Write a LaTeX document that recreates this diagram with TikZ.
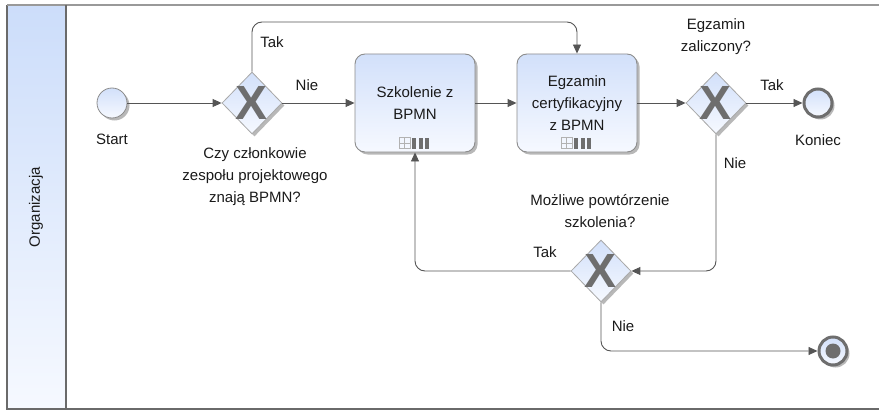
\documentclass[tikz,border=0pt]{standalone}
\usepackage{fontspec}
\setmainfont{Liberation Sans}
\usetikzlibrary{shapes.geometric,arrows.meta,shadows,calc}
\definecolor{bpblue}{HTML}{D2E0FA}
\definecolor{bplight}{HTML}{F6F9FF}
\definecolor{poolblue}{HTML}{CCDDFA}
\definecolor{lineg}{HTML}{555555}
\definecolor{gwborder}{HTML}{A9A9A9}
\definecolor{xgray}{HTML}{6E6E6E}
\definecolor{taskborder}{HTML}{8C8C8C}
\definecolor{shadowg}{HTML}{B8B8B8}
\definecolor{poolline}{HTML}{6A6A6A}
\definecolor{txt}{HTML}{1A1A1A}
\tikzset{
  mimarker/.pic={
    \draw[gray!60, line width=0.6pt] (-16,-5.5) rectangle (-5,5.5);
    \draw[gray!60, line width=0.6pt] (-10.5,-5.5) -- (-10.5,5.5) (-16,0) -- (-5,0);
    \fill[xgray] (-3,-5.5) rectangle (1,5.5);
    \fill[xgray] (3.5,-5.5) rectangle (7.5,5.5);
    \fill[xgray] (10,-5.5) rectangle (14,5.5);
  }
}
\begin{document}
\begin{tikzpicture}[x=1pt,y=-1pt,
  font=\fontsize{15}{22}\selectfont,
  flow/.style={draw=lineg, line width=0.9pt, -{Triangle[length=9pt,width=8pt]}, rounded corners=10pt},
  shd/.style={drop shadow={shadow xshift=2.5pt,shadow yshift=-2.5pt,fill=shadowg,opacity=1}},
  task/.style={shd, draw=taskborder, line width=0.9pt, rounded corners=10pt, top color=bpblue, bottom color=bplight, minimum width=120pt, minimum height=98pt, align=center, inner sep=0pt, text=txt},
  gateway/.style={shd, diamond, draw=gwborder, line width=0.8pt, top color=bpblue, bottom color=bplight, minimum width=60pt, minimum height=62pt, inner sep=0pt},
  xmark/.style={text=xgray, font=\fontsize{48}{48}\selectfont\bfseries, inner sep=0pt},
  startev/.style={shd, circle, draw=gray!90, line width=0.8pt, top color=bpblue, bottom color=bplight, minimum size=30pt, inner sep=0pt},
  endev/.style={shd, circle, draw=xgray, line width=3pt, top color=bpblue, bottom color=bplight, minimum size=28pt, inner sep=0pt},
  lbl/.style={align=center, inner sep=0pt, text=txt},
]
\useasboundingbox (0,0) rectangle (879,412);
% pool
\fill[top color=poolblue, bottom color=bplight] (7,5) rectangle (66,409);
\draw[poolline, line width=1.4pt] (885,409) -- (7,409) -- (7,5);
\draw[gray!80, line width=2.4pt] (7,5) -- (885,5);
\draw[poolline, line width=1.4pt] (66,5) -- (66,409);
\node[lbl, rotate=90] (lorg) at (36,207) {Organizacja};

% nodes
\node[startev] (start) at (112,103) {};
\node[gateway] (g1) at (252,103) {};
\node[xmark] (g1x) at (252,103) {X};
\node[task] (sz) at (415,103) {Szkolenie z\\BPMN};
\node[task] (eg) at (577,103) {Egzamin\\certyfikacyjny\\z BPMN};
\node[gateway] (g2) at (716,103) {};
\node[xmark] (g2x) at (716,103) {X};
\node[endev] (koniec) at (818,103) {};
\node[gateway] (g3) at (601,271) {};
\node[xmark] (g3x) at (601,271) {X};
\node[endev] (term) at (833,351) {};
\node[circle, fill=xgray, minimum size=15pt, inner sep=0pt] (termin) at (833,351) {};

\pic at (415,143) {mimarker};
\pic at (577,143) {mimarker};

\coordinate (topy) at (0,22);

% flows
\draw[flow] (start) -- (g1);
\draw[flow] (g1) -- (sz);
\draw[flow] (g1.north) |- (eg.north |- topy) -- (eg.north);
\draw[flow] (sz) -- (eg);
\draw[flow] (eg) -- (g2);
\draw[flow] (g2) -- (koniec);
\draw[flow] (g2.south) |- (g3.east);
\draw[flow] (g3.west) -| (sz.south);
\draw[flow] (g3.south) |- (term);

% labels
\node[lbl] (lstart) at (112,139) {Start};
\node[lbl] (lq1) at (255,177) {Czy członkowie\\zespołu projektowego\\znają BPMN?};
\node[lbl] (ltak1) at (272,42) {Tak};
\node[lbl] (lnie1) at (307,85) {Nie};
\node[lbl] (lq2) at (716,37) {Egzamin\\zaliczony?};
\node[lbl] (ltak2) at (772,85) {Tak};
\node[lbl] (lkon) at (818,140) {Koniec};
\node[lbl] (lnie2) at (735,163) {Nie};
\node[lbl] (lq3) at (600,211) {Możliwe powtórzenie\\szkolenia?};
\node[lbl] (ltak3) at (545,252) {Tak};
\node[lbl] (lnie3) at (623,326) {Nie};
\end{tikzpicture}
\end{document}
